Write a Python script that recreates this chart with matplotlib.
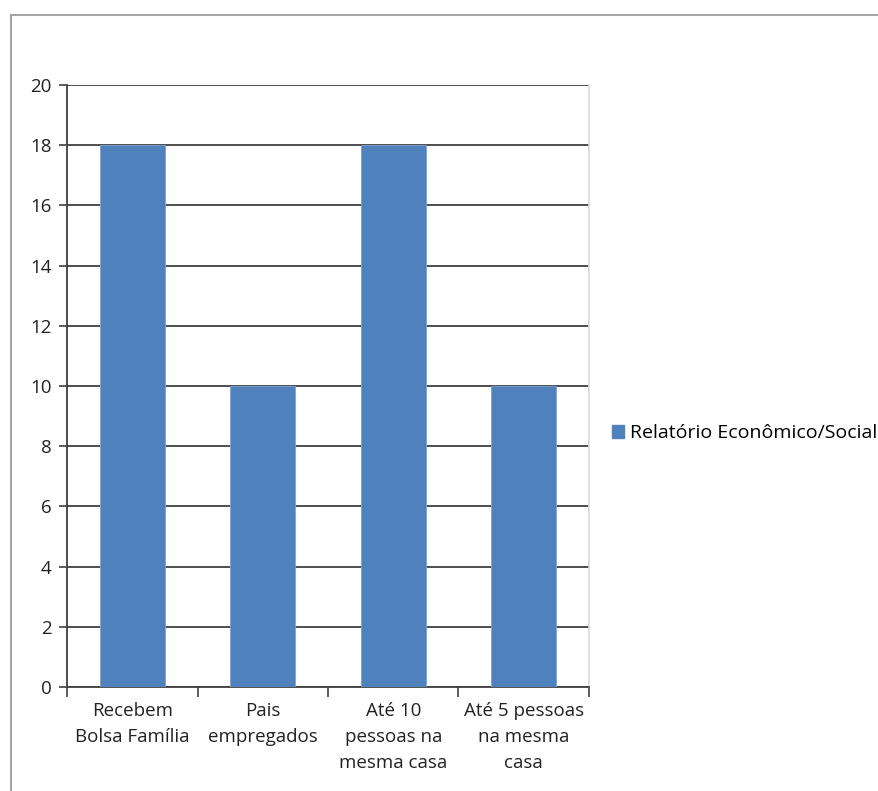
import matplotlib
matplotlib.use("Agg")
import matplotlib.pyplot as plt
from matplotlib.lines import Line2D
from matplotlib.patches import Patch
import numpy as np

categorias = ["Recebem\nBolsa Família", "Pais\nempregados",
              "Até 10\npessoas na\nmesma casa", "Até 5 pessoas\nna mesma\ncasa"]
valores = [18, 10, 18, 10]
serie = "Relatório Econômico/Social"
yticks = list(range(0, 21, 2))

plt.rcParams["font.family"] = ["Open Sans", "DejaVu Sans"]
FS = 13.5

fig = plt.figure(figsize=(8.79, 7.91), dpi=100)
ax = fig.add_axes([67/879, 1-687/791, 522/879, 602/791])

x = np.arange(len(categorias))
ax.bar(x, valores, width=0.5, color="#4f81bd", edgecolor="#7fa3d3", linewidth=0.6, zorder=3)

ax.set_xlim(-0.5, len(categorias) - 0.5)
ax.set_ylim(0, 20)
ax.set_yticks(yticks)
ax.set_yticklabels([str(v) for v in yticks], fontsize=FS, color="#222222")
ax.yaxis.grid(True, color="#404040", linewidth=1.3, zorder=0)
ax.tick_params(axis="y", length=6, width=1.2, color="#404040", pad=5)

# ticks between categories, labels centred under bars
ax.set_xticks(np.arange(len(categorias) + 1) - 0.5)
ax.set_xticklabels([])
ax.set_xticks(x, minor=True)
ax.set_xticklabels(categorias, minor=True, fontsize=FS, color="#222222", linespacing=1.55, va="top")
ax.tick_params(axis="x", which="major", length=7, width=1.2, color="#404040")
ax.tick_params(axis="x", which="minor", length=0, pad=11)

for side in ("left", "bottom"):
    ax.spines[side].set_color("#404040")
    ax.spines[side].set_linewidth(1.3)
ax.spines["top"].set_visible(False)
ax.spines["right"].set_color("#d9d9d9")
ax.spines["right"].set_linewidth(1.2)

fig.legend(handles=[Patch(color="#4f81bd", label=serie)], loc="center left",
           bbox_to_anchor=(604/879, 1-433/791), frameon=False, fontsize=14,
           handlelength=0.65, handleheight=0.65, handletextpad=0.3, borderaxespad=0)

# outer chart frame
fig.add_artist(Line2D([11/879, 1], [1-15/791, 1-15/791], color="#a6a6a6", linewidth=1.5))
fig.add_artist(Line2D([11/879, 11/879], [0, 1-15/791], color="#a6a6a6", linewidth=1.5))

fig.savefig("out.png", dpi=100)
